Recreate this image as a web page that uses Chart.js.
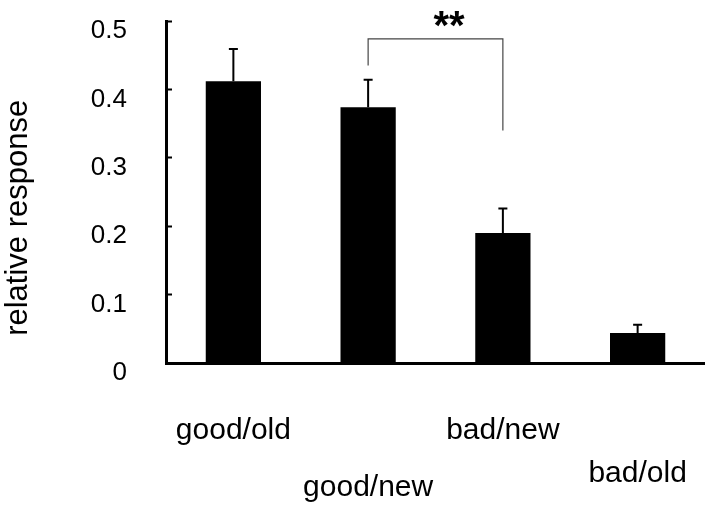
<!DOCTYPE html>
<html>
<head>
<meta charset="utf-8">
<script src="https://cdn.jsdelivr.net/npm/chart.js@4"></script>
<style>
  html, body { margin: 0; padding: 0; background: #fff; }
  #wrap { width: 705px; height: 505px; }
</style>
</head>
<body>
<div id="wrap"><canvas id="chart" width="705" height="505"></canvas></div>
<script>
// ── values ──
const CATEGORIES = ['good/old', 'good/new', 'bad/new', 'bad/old'];
const RESPONSE = [0.412, 0.374, 0.190, 0.044];
const ERROR_UP = [0.047, 0.040, 0.036, 0.012];
const Y_TICKS = [0, 0.1, 0.2, 0.3, 0.4, 0.5];

// significance bracket good/new vs bad/new
const BRACKET_X = ['good/new', 'good/new', 'bad/new', 'bad/new'];
const BRACKET_Y = [0.435, 0.474, 0.474, 0.340];
const SIG_LABEL = '**';

const FONT = '"Liberation Sans", Arial, Helvetica, sans-serif';

/* ═══ upward error bars ═══ */
const errorBars = {
  id: 'errorBars',
  afterDatasetsDraw(chart) {
    const meta = chart.getDatasetMeta(0);
    const y = chart.scales.y;
    const ctx = chart.ctx;
    ctx.save();
    ctx.strokeStyle = '#000';
    ctx.lineWidth = 2;
    meta.data.forEach((bar, i) => {
      const top = y.getPixelForValue(RESPONSE[i] + ERROR_UP[i]);
      ctx.beginPath();
      ctx.moveTo(bar.x, bar.y);
      ctx.lineTo(bar.x, top);
      ctx.moveTo(bar.x - 4.5, top);
      ctx.lineTo(bar.x + 4.5, top);
      ctx.stroke();
    });
    ctx.restore();
  }
};

/* ═══ ** over the bracket ═══ */
const sigMark = {
  id: 'sigMark',
  afterDatasetsDraw(chart) {
    const { ctx, scales: { x, y } } = chart;
    ctx.save();
    ctx.font = 'bold 40px ' + FONT;
    ctx.textAlign = 'center';
    ctx.textBaseline = 'alphabetic';
    ctx.fillStyle = '#000';
    ctx.fillText(SIG_LABEL, x.getPixelForValue(1.6), y.getPixelForValue(BRACKET_Y[1]));
    ctx.restore();
  }
};

// staggered label rows under the axis (empty lines push text down)
const labelRow = [4, 8, 4, 7];

new Chart(document.getElementById('chart'), {
  type: 'bar',
  data: {
    labels: CATEGORIES,
    datasets: [
      {
        data: RESPONSE,
        backgroundColor: '#000',
        borderWidth: 0,
        categoryPercentage: 1,
        barPercentage: 0.41,
      },
      {
        type: 'line',
        data: BRACKET_X.map((c, i) => ({ x: c, y: BRACKET_Y[i] })),
        borderColor: '#444',
        borderWidth: 1.2,
        pointRadius: 0,
        fill: false,
        tension: 0,
      }
    ]
  },
  options: {
    responsive: false,
    animation: false,
    events: [],
    layout: { padding: { top: 21, left: 0, right: 0, bottom: 0 } },
    plugins: { legend: { display: false }, tooltip: { enabled: false } },
    scales: {
      x: {
        offset: true,
        afterFit: s => { s.height = 142; s.paddingLeft = 0; s.paddingRight = 0; },
        grid: { display: false, drawTicks: false },
        border: { color: '#000', width: 3 },
        ticks: {
          autoSkip: false,
          maxRotation: 0,
          minRotation: 0,
          color: '#000',
          padding: 4,
          font: { family: FONT, size: 30, lineHeight: '14.2px' },
          callback: (v, i) => [...Array(labelRow[i]).fill(''), CATEGORIES[i]],
        }
      },
      y: {
        min: 0,
        max: 0.5,
        afterFit: s => { s.width = 166; s.paddingTop = 0; s.paddingBottom = 0; },
        afterBuildTicks: s => { s.ticks = Y_TICKS.map(v => ({ value: v })); },
        grid: { drawOnChartArea: false, tickLength: -6, tickWidth: 2, tickColor: '#000', color: '#000' },
        border: { color: '#000', width: 3 },
        ticks: {
          color: '#000',
          padding: 45,
          labelOffset: 10,
          font: { family: FONT, size: 26 },
          callback: v => (v === 0 ? '0' : v.toFixed(1)),
        },
        title: {
          display: true,
          text: 'relative response      ',
          color: '#000',
          font: { family: FONT, size: 31 },
          padding: { top: 0, bottom: 0 },
        }
      }
    }
  },
  plugins: [errorBars, sigMark]
});
</script>
</body>
</html>
